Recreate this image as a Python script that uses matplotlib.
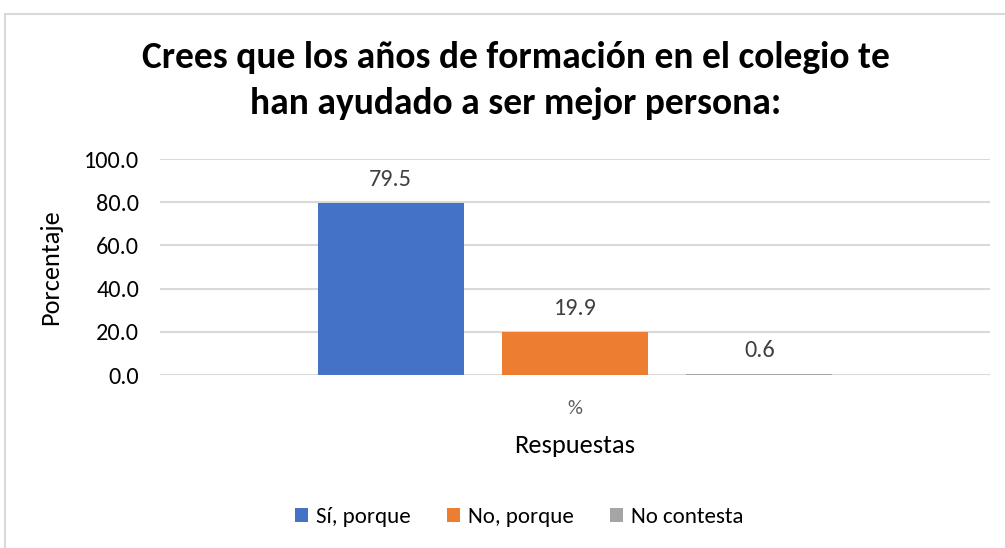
import matplotlib.pyplot as plt
from matplotlib.patches import Rectangle
from matplotlib import font_manager

# datos
categoria = ["%"]
series = ["Sí, porque", "No, porque", "No contesta"]
valores = [79.5, 19.9, 0.6]
colores = ["#4472C4", "#ED7D31", "#A5A5A5"]
yticks = [0, 20, 40, 60, 80, 100]

nombres = {f.name for f in font_manager.fontManager.ttflist}
fuente = "Open Sans"
for f in ["Carlito", "Liberation Sans Narrow", "Open Sans"]:
    if f in nombres:
        fuente = f
        break
plt.rcParams["font.family"] = [fuente, "DejaVu Sans"]

W, H = 1005, 548
fig = plt.figure(figsize=(W / 100, H / 100), dpi=100)

# marco del gráfico
fig.patches.append(Rectangle((5 / W, -0.1), 1.2, (H - 14) / H + 0.1, transform=fig.transFigure,
                             fill=False, edgecolor="#d9d9d9", linewidth=1.5))

ax = fig.add_axes([160 / W, 1 - 375 / H, 830 / W, (375 - 159) / H])

ancho = 0.176
paso = 0.222
for i, (s, v, c) in enumerate(zip(series, valores, colores)):
    x = (i - 1) * paso
    ax.bar(x, v, width=ancho, color=c, label=s, zorder=3)
    ax.text(x, v + 6, f"{v:.1f}", ha="center", va="bottom", fontsize=17.5, color="#404040")

ax.set_xlim(-0.5, 0.5)
ax.set_ylim(0, 100)
ax.set_yticks(yticks)
ax.set_yticklabels([f"{t:.1f}" for t in yticks], fontsize=17.5)
ax.set_xticks([0])
ax.set_xticklabels(categoria, fontsize=15, color="#595959")
ax.tick_params(axis="y", length=0, pad=15)
ax.tick_params(axis="x", length=0, pad=18)
ax.grid(axis="y", color="#d9d9d9", linewidth=1.5, zorder=0)
for sp in ax.spines.values():
    sp.set_visible(False)

ax.set_ylabel("Porcentaje", fontsize=19)
ax.yaxis.set_label_coords(-98 / 830, 0.5)
ax.set_xlabel("Respuestas", fontsize=19, labelpad=12)

fig.text(516 / W, 1 - 58 / H, "Crees que los años de formación en el colegio te", ha="center",
         va="center", fontsize=27, fontweight="bold")
fig.text(516 / W, 1 - 103 / H, "han ayudado a ser mejor persona:", ha="center",
         va="center", fontsize=27, fontweight="bold")

fig.legend(loc="center", bbox_to_anchor=(519 / W, 1 - 517 / H), ncol=3, frameon=False,
           fontsize=16.5, handlelength=0.55, handleheight=0.55, handletextpad=0.35, columnspacing=1.6)

fig.savefig("out.png", dpi=100)
